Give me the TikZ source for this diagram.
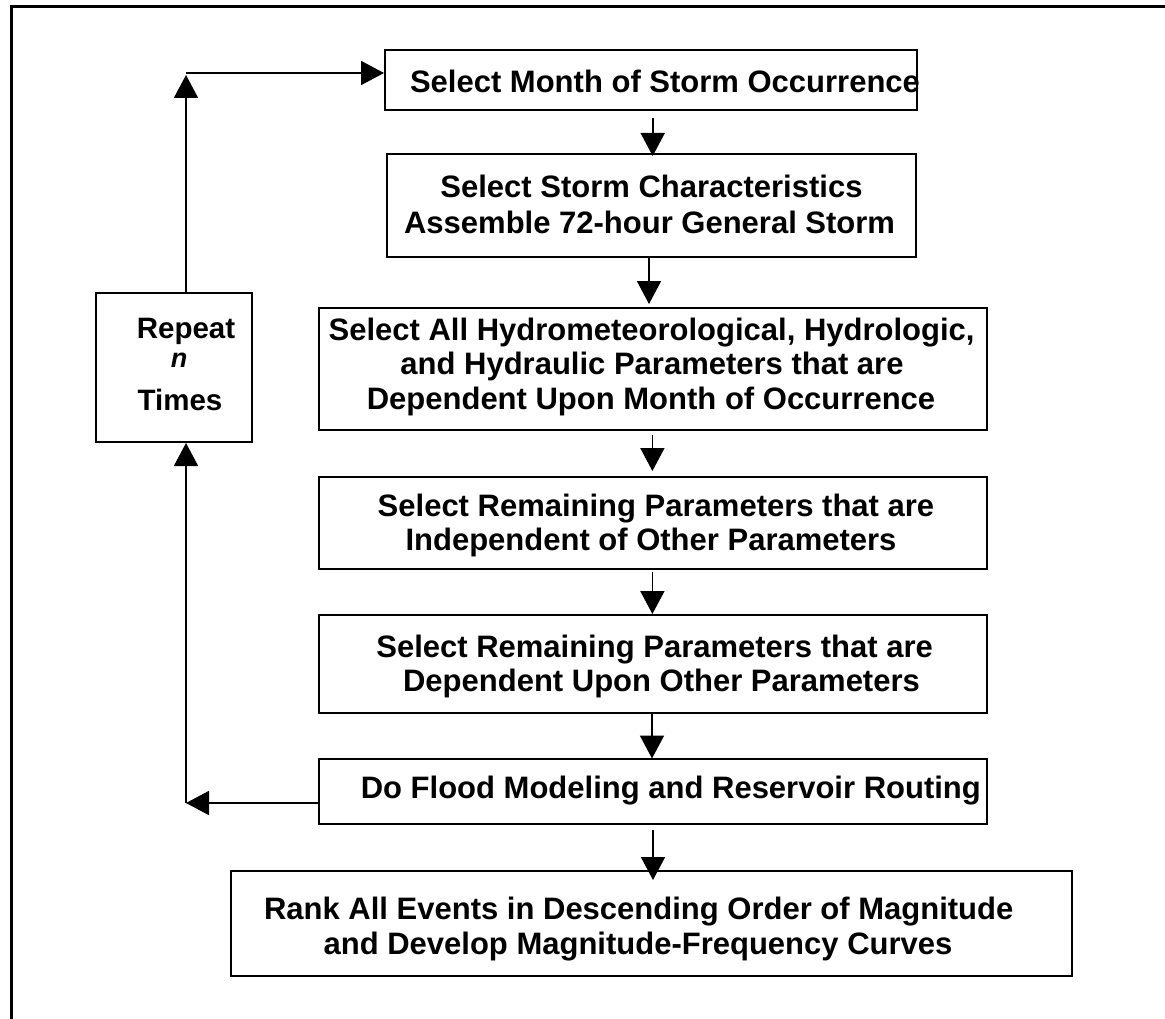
\documentclass[tikz,border=0pt]{standalone}
\usepackage{fontspec}
\setmainfont{Liberation Sans}
\usetikzlibrary{arrows.meta}
\begin{document}
\begin{tikzpicture}[x=1pt,y=-1pt,
  box/.style={draw=black, line width=2pt, inner sep=0pt},
  txt/.style={anchor=base, inner sep=0pt, font=\bfseries\fontsize{31}{31}\selectfont},
  reptxt/.style={anchor=base, inner sep=0pt, font=\bfseries\fontsize{29.5}{29.5}\selectfont},
  arr/.style={line width=1.8pt, -{Triangle[length=23pt,width=24pt]}}
]
\fill[white] (0,0) rectangle (1165,1019);
\useasboundingbox (0,0) rectangle (1165,1019);

% outer frame (cut at right and bottom)
\draw[line width=3pt] (11.3,1019) -- (11.3,6.3) -- (1165,6.3);

% boxes
\node[box, minimum width=532pt, minimum height=60pt]  (b1) at (651,80.5) {};
\node[box, minimum width=529pt, minimum height=103pt] (b2) at (651.5,205.5) {};
\node[box, minimum width=668pt, minimum height=122pt] (b3) at (653,369) {};
\node[box, minimum width=668pt, minimum height=92pt]  (b4) at (653,523) {};
\node[box, minimum width=668pt, minimum height=98pt]  (b5) at (653,664) {};
\node[box, minimum width=668pt, minimum height=65pt]  (b6) at (653,791.5) {};
\node[box, minimum width=841pt, minimum height=105pt] (b7) at (651.5,923.5) {};
\node[box, minimum width=156pt, minimum height=149pt] (rep) at (174,367.5) {};

% texts
\node[txt] (t1)  at (665,92.5)   {Select Month of Storm Occurrence};
\node[txt] (t2a) at (651.5,197.3) {Select Storm Characteristics};
\node[txt] (t2b) at (649.6,234)  {Assemble 72-hour General Storm};
\node[txt] (t3a) at (651.6,340)  {Select All Hydrometeorological, Hydrologic,};
\node[txt] (t3b) at (652,374)    {and Hydraulic Parameters that are};
\node[txt] (t3c) at (651,409.3)  {Dependent Upon Month of Occurrence};
\node[txt] (t4a) at (656,516.7)  {Select Remaining Parameters that are};
\node[txt] (t4b) at (651,550.7)  {Independent of Other Parameters};
\node[txt] (t5a) at (654.6,657.3) {Select Remaining Parameters that are};
\node[txt] (t5b) at (661.5,691.7) {Dependent Upon Other Parameters};
\node[txt] (t6)  at (670.8,798.3) {Do Flood Modeling and Reservoir Routing};
\node[txt] (t7a) at (638.7,919.3) {Rank All Events in Descending Order of Magnitude};
\node[txt] (t7b) at (638,954)    {and Develop Magnitude-Frequency Curves};
\node[reptxt] (r1) at (186,338.3) {Repeat};
\node[anchor=base, inner sep=0pt, font=\bfseries\itshape\fontsize{27}{27}\selectfont] (r2) at (179,367.5) {n};
\node[reptxt] (r3) at (180,410) {Times};

% main flow connectors
\draw[arr] ([shift={(1.7,6.5)}]b1.south) -- ([shift={(1.2,3)}]b2.north);
\draw[arr] ([shift={(-2.5,0.5)}]b2.south) -- ([shift={(-4,-3)}]b3.north);
\draw[arr] ([shift={(-0.6,4)}]b3.south) -- ([shift={(-0.6,-5)}]b4.north);
\draw[arr] ([shift={(-0.6,2)}]b4.south) -- ([shift={(-0.6,0)}]b5.north);
\draw[arr] ([shift={(-1,0)}]b5.south) -- ([shift={(-1,0.5)}]b6.north);
\draw[arr] ([shift={(0,5)}]b6.south) -- ([shift={(1.5,10)}]b7.north);

% feedback loop
\coordinate (c1) at (186,73);
\coordinate (c2) at (186,803);
\draw[arr] (rep.north -| c1) -- ([yshift=-2pt]c1);
\draw[arr] (c1) -- (b1.west |- c1);
\draw[arr] (b6.west |- c2) -- (c2);
\draw[arr] (c2) -- (rep.south -| c2);
\end{tikzpicture}
\end{document}
